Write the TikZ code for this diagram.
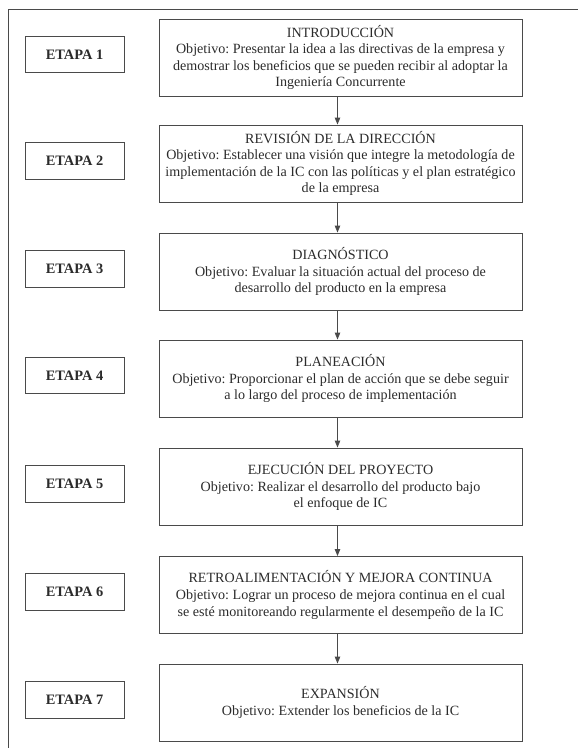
\documentclass[tikz,border=0pt]{standalone}
\usepackage{fontspec}
\setmainfont{Liberation Serif}
\usepackage{tikz}
\usetikzlibrary{arrows.meta,positioning}
\definecolor{ink}{HTML}{2B2B2B}
\definecolor{rule}{HTML}{4A4A4A}
\frenchspacing

\begin{document}
\begin{tikzpicture}[
  x=1pt, y=-1pt, line join=miter,
  etapa/.style={draw=rule, line width=0.9pt, minimum width=99pt,
               minimum height=36.5pt, inner sep=0pt, text=ink,
               font=\fontsize{14.4}{16}\selectfont\bfseries},
  fase/.style={draw=rule, line width=0.9pt, minimum width=363pt,
               minimum height=77pt, inner sep=0pt, align=center, text=ink,
               font=\fontsize{14.1}{16.6}\selectfont},
  flecha/.style={rule, line width=0.9pt,
               -{Triangle[length=7pt,width=5.5pt]}}]

\useasboundingbox (0,0) rectangle (578,748);

\def\xl{74.5}     % etapa column
\def\xr{340.5}    % fase column

% ---------------------------------------------------------------- frame
\draw[rule, line width=0.9pt] (578,9.5) -- (8,9.5) -- (8,748);

% ================================================================ etapa 1
\node[fase]   (f1) at (\xr,57.5) {INTRODUCCIÓN\\
  Objetivo: Presentar la idea a las directivas de la empresa y\\
  demostrar los beneficios que se pueden recibir al adoptar la\\
  Ingeniería Concurrente};
\node[etapa]  (e1) at (\xl,54.5) {ETAPA 1};

% ================================================================ etapa 2
\node[fase]   (f2) at (\xr,163.5) {REVISIÓN DE LA DIRECCIÓN\\
  Objetivo: Establecer una visión que integre la metodología de\\
  implementación de la IC con las políticas y el plan estratégico\\
  de la empresa};
\node[etapa]  (e2) at (\xl,161) {ETAPA 2};

% ================================================================ etapa 3
\node[fase]   (f3) at (\xr,271.5) {DIAGNÓSTICO\\
  Objetivo: Evaluar la situación actual del proceso de\\
  desarrollo del producto en la empresa};
\node[etapa]  (e3) at (\xl,269) {ETAPA 3};

% ================================================================ etapa 4
\node[fase]   (f4) at (\xr,378.5) {PLANEACIÓN\\
  Objetivo: Proporcionar el plan de acción que se debe seguir\\
  a lo largo del proceso de implementación};
\node[etapa]  (e4) at (\xl,375.5) {ETAPA 4};

% ================================================================ etapa 5
\node[fase]   (f5) at (\xr,486.5) {EJECUCIÓN DEL PROYECTO\\
  Objetivo: Realizar el desarrollo del producto bajo\\
  el enfoque de IC};
\node[etapa]  (e5) at (\xl,484) {ETAPA 5};

% ================================================================ etapa 6
\node[fase]   (f6) at (\xr,595) {RETROALIMENTACIÓN Y MEJORA CONTINUA\\
  Objetivo: Lograr un proceso de mejora continua en el cual\\
  se esté monitoreando regularmente el desempeño de la IC};
\node[etapa]  (e6) at (\xl,592) {ETAPA 6};

% ================================================================ etapa 7
\node[fase]   (f7) at (\xr,702.5) {EXPANSIÓN\\
  Objetivo: Extender los beneficios de la IC};
\node[etapa]  (e7) at (\xl,700) {ETAPA 7};

% ---------------------------------------------------------------- arrows
\foreach \a/\b in {f1/f2, f2/f3, f3/f4, f4/f5, f5/f6, f6/f7}
  \draw[flecha] ([xshift=-3pt]\a.south) -- ([xshift=-3pt]\b.north);

\end{tikzpicture}
\end{document}
